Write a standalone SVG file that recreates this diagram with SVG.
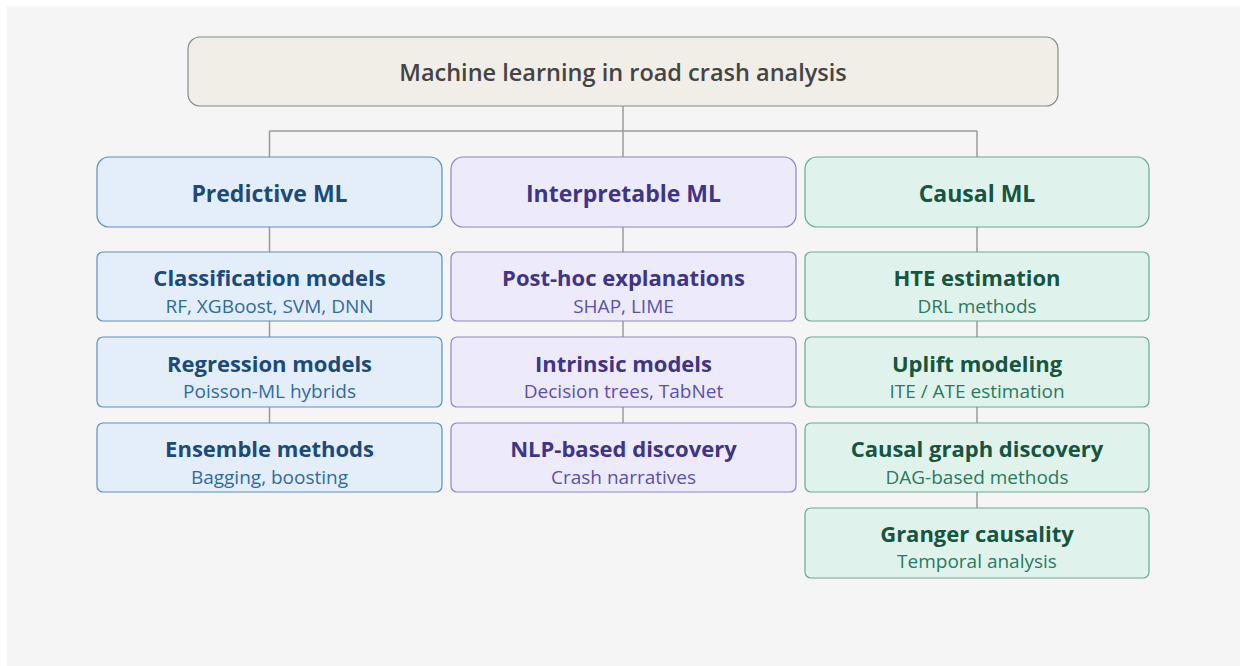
<svg xmlns="http://www.w3.org/2000/svg" width="1245" height="666" viewBox="0 0 1245 666">
<style>
text{font-family:"Open Sans","Noto Sans","Liberation Sans",sans-serif;text-anchor:middle}
.conn{stroke:#9a9a9a;stroke-width:1.5;fill:none}
.root rect{fill:#f1eee8;stroke:#8c8a86;stroke-width:1.2}
.root text{fill:#444;font-size:23.5px;font-weight:600}
.p rect{fill:#e3eefa;stroke:#5a8fc6;stroke-width:1.2}
.i rect{fill:#eceafb;stroke:#8d86cc;stroke-width:1.2}
.c rect{fill:#dff3ec;stroke:#6aaa92;stroke-width:1.2}
.h{font-size:23px;font-weight:700}
.t{font-size:22px;font-weight:700}
.s{font-size:19px}
.p .h,.p .t{fill:#1b4a7c}.p .s{fill:#2f6aa8}
.i .h,.i .t{fill:#3e358a}.i .s{fill:#5b50b3}
.c .h,.c .t{fill:#16553f}.c .s{fill:#2a7a5e}
</style>
<rect x="0" y="0" width="1245" height="666" fill="#ffffff"/>
<rect x="7" y="6" width="1233" height="660" fill="#f5f5f5"/>
<g id="connectors" class="conn">
<path d="M623 106V131M269.5 131H977M269.5 131V157M623 131V157M977 131V157"/>
<path d="M269.5 227V252M269.5 321V337M269.5 407V423"/>
<path d="M623 227V252M623 321V337M623 407V423"/>
<path d="M977 227V252M977 321V337M977 407V423M977 492V508"/>
</g>
<g id="root" class="root"><rect x="188" y="37" width="870" height="69" rx="12"/><text x="623" y="81">Machine learning in road crash analysis</text></g>
<g id="predictive" class="p"><rect x="97" y="157" width="345" height="70" rx="12"/><text class="h" x="269.5" y="202">Predictive ML</text></g>
<g id="interpretable" class="i"><rect x="451" y="157" width="345" height="70" rx="12"/><text class="h" x="623.5" y="202">Interpretable ML</text></g>
<g id="causal" class="c"><rect x="805" y="157" width="344" height="70" rx="12"/><text class="h" x="977" y="202">Causal ML</text></g>
<g id="classification" class="p"><rect x="97" y="252" width="345" height="69" rx="6"/><text class="t" x="269.5" y="285.5">Classification models</text><text class="s" x="269.5" y="312.5">RF, XGBoost, SVM, DNN</text></g>
<g id="regression" class="p"><rect x="97" y="337" width="345" height="70" rx="6"/><text class="t" x="269.5" y="371.5">Regression models</text><text class="s" x="269.5" y="398">Poisson-ML hybrids</text></g>
<g id="ensemble" class="p"><rect x="97" y="423" width="345" height="69" rx="6"/><text class="t" x="269.5" y="456.5">Ensemble methods</text><text class="s" x="269.5" y="483.5">Bagging, boosting</text></g>
<g id="posthoc" class="i"><rect x="451" y="252" width="345" height="69" rx="6"/><text class="t" x="623.5" y="285.5">Post-hoc explanations</text><text class="s" x="623.5" y="312.5">SHAP, LIME</text></g>
<g id="intrinsic" class="i"><rect x="451" y="337" width="345" height="70" rx="6"/><text class="t" x="623.5" y="371.5">Intrinsic models</text><text class="s" x="623.5" y="398">Decision trees, TabNet</text></g>
<g id="nlp" class="i"><rect x="451" y="423" width="345" height="69" rx="6"/><text class="t" x="623.5" y="456.5">NLP-based discovery</text><text class="s" x="623.5" y="483.5">Crash narratives</text></g>
<g id="hte" class="c"><rect x="805" y="252" width="344" height="69" rx="6"/><text class="t" x="977" y="285.5">HTE estimation</text><text class="s" x="977" y="312.5">DRL methods</text></g>
<g id="uplift" class="c"><rect x="805" y="337" width="344" height="70" rx="6"/><text class="t" x="977" y="371.5">Uplift modeling</text><text class="s" x="977" y="398">ITE / ATE estimation</text></g>
<g id="causalgraph" class="c"><rect x="805" y="423" width="344" height="69" rx="6"/><text class="t" x="977" y="456.5">Causal graph discovery</text><text class="s" x="977" y="483.5">DAG-based methods</text></g>
<g id="granger" class="c"><rect x="805" y="508" width="344" height="70" rx="6"/><text class="t" x="977" y="541.5">Granger causality</text><text class="s" x="977" y="568">Temporal analysis</text></g>
</svg>
